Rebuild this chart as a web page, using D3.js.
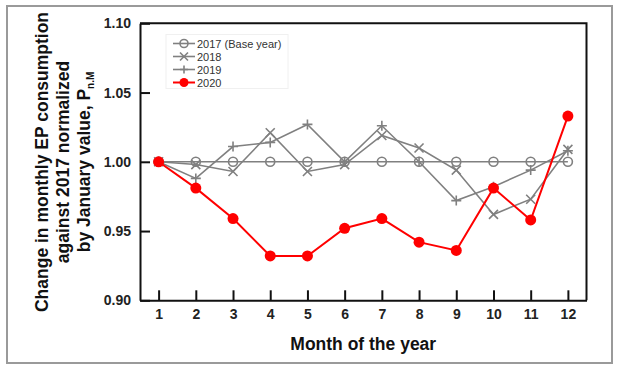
<!DOCTYPE html>
<html>
<head>
<meta charset="utf-8">
<script src="https://cdn.jsdelivr.net/npm/d3@7"></script>
<style>
  html, body { margin: 0; padding: 0; background: #fff; }
  svg { display: block; font-family: "Liberation Sans", Arial, sans-serif; }
</style>
</head>
<body>
<svg id="chart" width="619" height="365"></svg>
<script>
// Monthly EP consumption normalised to the January 2017 value
const months = [1, 2, 3, 4, 5, 6, 7, 8, 9, 10, 11, 12];
const y2017 = [1.000, 1.000, 1.000, 1.000, 1.000, 1.000, 1.000, 1.000, 1.000, 1.000, 1.000, 1.000];
const y2018 = [1.000, 0.998, 0.993, 1.021, 0.993, 0.998, 1.019, 1.010, 0.994, 0.962, 0.973, 1.009];
const y2019 = [1.000, 0.988, 1.011, 1.014, 1.027, 1.000, 1.026, 1.000, 0.972, 0.982, 0.994, 1.008];
const y2020 = [1.000, 0.981, 0.959, 0.932, 0.932, 0.952, 0.959, 0.942, 0.936, 0.981, 0.958, 1.033];
const yTicks = [0.90, 0.95, 1.00, 1.05, 1.10];
const seriesNames = ["2017 (Base year)", "2018", "2019", "2020"];

const series = [
  { name: seriesNames[0], values: y2017, color: "#808080", marker: "circle" },
  { name: seriesNames[1], values: y2018, color: "#808080", marker: "cross" },
  { name: seriesNames[2], values: y2019, color: "#808080", marker: "plus" },
  { name: seriesNames[3], values: y2020, color: "#ff0000", marker: "dot" }
];

const svg = d3.select("#chart");

// outer frame
svg.append("rect")
  .attr("x", 7).attr("y", 6).attr("width", 605).attr("height", 357)
  .attr("fill", "none").attr("stroke", "#9a9a9a").attr("stroke-width", 2);

const plot = { left: 140, right: 586.5, top: 23.3, bottom: 300.3 };

const x = d3.scaleLinear().domain([0.5, 12.5]).range([plot.left, plot.right]);
const y = d3.scaleLinear().domain([0.90, 1.10]).range([plot.bottom, plot.top]);

// axes with inward ticks
const xAxis = svg.append("g")
  .attr("transform", `translate(0,${plot.bottom})`)
  .call(d3.axisBottom(x).tickValues(months).tickFormat(d3.format("d"))
    .tickSizeInner(-10).tickSizeOuter(0).tickPadding(9));
const yAxis = svg.append("g")
  .attr("transform", `translate(${plot.left},0)`)
  .call(d3.axisLeft(y).tickValues(yTicks).tickFormat(d3.format(".2f"))
    .tickSizeInner(-10).tickSizeOuter(0).tickPadding(9));

[xAxis, yAxis].forEach(g => {
  g.select(".domain").attr("stroke", "#111").attr("stroke-width", 2);
  g.selectAll(".tick line").attr("stroke", "#111").attr("stroke-width", 2);
  g.selectAll(".tick text")
    .attr("fill", "#222").attr("font-size", 14).attr("font-weight", "bold")
    .attr("font-family", "'Liberation Sans', Arial, sans-serif");
});

// top and right border of the plot box
svg.append("path")
  .attr("d", `M${plot.left},${plot.top}H${plot.right}V${plot.bottom}`)
  .attr("fill", "none").attr("stroke", "#111").attr("stroke-width", 2);

// markers
function drawMarker(g, type, color, r) {
  if (type === "circle") {
    g.append("circle").attr("r", r).attr("fill", "none")
      .attr("stroke", color).attr("stroke-width", 1.6);
  } else if (type === "dot") {
    g.append("circle").attr("r", r).attr("fill", color);
  } else if (type === "cross") {
    g.append("path").attr("d", `M${-r},${-r}L${r},${r}M${-r},${r}L${r},${-r}`)
      .attr("stroke", color).attr("stroke-width", 1.6);
  } else if (type === "plus") {
    g.append("path").attr("d", `M${-r},0H${r}M0,${-r}V${r}`)
      .attr("stroke", color).attr("stroke-width", 1.6);
  }
}
const markerSize = { circle: 4.5, cross: 4.5, plus: 5, dot: 5.5 };

const line = d3.line().x((d, i) => x(months[i])).y(d => y(d));

series.forEach(s => {
  const g = svg.append("g");
  g.append("path").datum(s.values).attr("d", line)
    .attr("fill", "none").attr("stroke", s.color)
    .attr("stroke-width", s.marker === "dot" ? 2 : 1.6);
  s.values.forEach((v, i) => {
    const m = g.append("g").attr("transform", `translate(${x(months[i])},${y(v)})`);
    drawMarker(m, s.marker, s.color, markerSize[s.marker]);
  });
});

// legend
const legend = svg.append("g").attr("transform", "translate(173,43.5)");
legend.append("rect").attr("x", -7).attr("y", -9).attr("width", 122).attr("height", 54)
  .attr("fill", "none").attr("stroke", "#f0f0f0");
series.forEach((s, i) => {
  const row = legend.append("g").attr("transform", `translate(0,${i * 13})`);
  row.append("line").attr("x1", 0).attr("x2", 22)
    .attr("stroke", s.color).attr("stroke-width", s.marker === "dot" ? 2 : 1.6);
  const m = row.append("g").attr("transform", "translate(11,0)");
  drawMarker(m, s.marker, s.color, s.marker === "dot" ? 4.5 : 4);
  row.append("text").attr("x", 24).attr("y", 4)
    .attr("font-size", 11).attr("fill", "#333").text(s.name);
});

// axis titles
svg.append("text")
  .attr("x", (x(1) + x(12)) / 2).attr("y", 350)
  .attr("text-anchor", "middle").attr("font-size", 17.5).attr("font-weight", "bold")
  .attr("fill", "#111").text("Month of the year");

const yTitle = svg.append("text")
  .attr("transform", "translate(0,162) rotate(-90)")
  .attr("text-anchor", "middle").attr("font-size", 17.5).attr("font-weight", "bold")
  .attr("fill", "#111");
yTitle.append("tspan").attr("x", 0).attr("y", 48).text("Change in monthly EP consumption");
yTitle.append("tspan").attr("x", 0).attr("y", 69).text("against 2017 normalized");
const t3 = yTitle.append("tspan").attr("x", 0).attr("y", 89.5);
t3.append("tspan").text("by January value, P");
t3.append("tspan").attr("font-size", 10).attr("dy", 4).text("n.M");
</script>
</body>
</html>
